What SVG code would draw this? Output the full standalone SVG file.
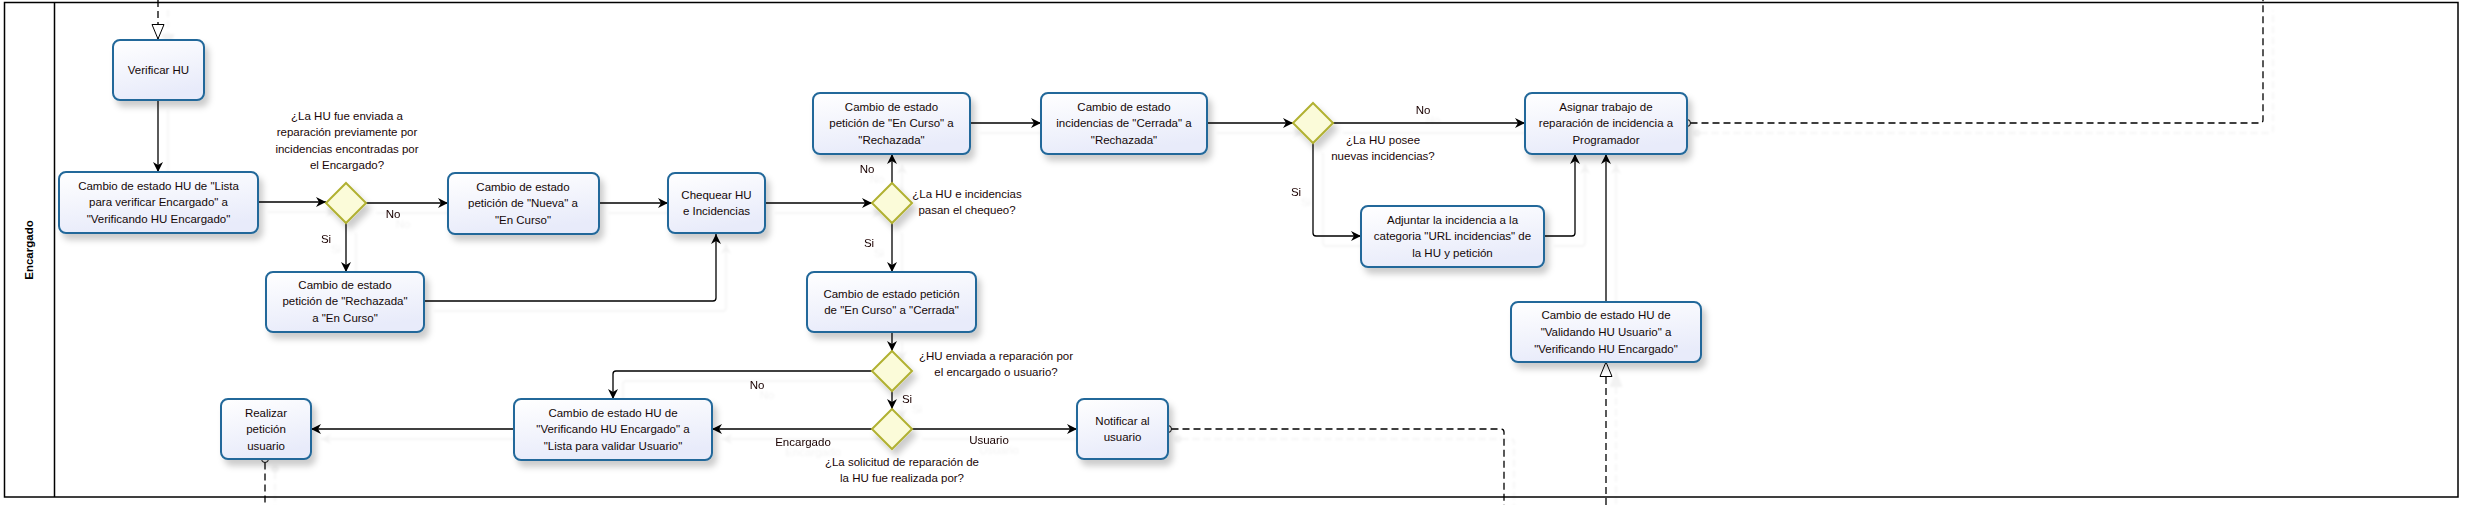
<svg xmlns="http://www.w3.org/2000/svg" width="2475" height="505" viewBox="0 0 2475 505">
<defs>
<linearGradient id="gBox" x1="0" y1="0" x2="0.3" y2="1">
<stop offset="0" stop-color="#ffffff"/>
<stop offset="1" stop-color="#e8ebfa"/>
</linearGradient>
<filter id="sh" x="-20%" y="-20%" width="150%" height="160%">
<feDropShadow dx="4" dy="6" stdDeviation="3" flood-color="#000" flood-opacity="0.2"/>
</filter>
<filter id="csh" x="-5%" y="-5%" width="110%" height="110%">
<feDropShadow dx="10" dy="10" stdDeviation="0.8" flood-color="#000" flood-opacity="0.05"/>
</filter>
<marker id="arr" viewBox="0 0 10 10" refX="10" refY="5" markerWidth="10" markerHeight="10" markerUnits="userSpaceOnUse" orient="auto">
<path d="M0,0 L10,5 L0,10 L3,5 z" fill="#000"/>
</marker>
<marker id="tri" viewBox="0 0 16 14" refX="15.5" refY="7" markerWidth="16" markerHeight="14" markerUnits="userSpaceOnUse" orient="auto">
<path d="M1,1 L15.5,7 L1,13 z" fill="#fff" stroke="#000" stroke-width="1"/>
</marker>
</defs>
<style>
.box{fill:url(#gBox);stroke:#22689a;stroke-width:2;filter:url(#sh)}
.gw{fill:#fbfbd9;stroke:#b1b131;stroke-width:2;filter:url(#sh)}
.t{font-family:"Liberation Sans",Arial,sans-serif;font-size:11.5px;fill:#140808;text-anchor:middle}
.lbl{font-family:"Liberation Sans",Arial,sans-serif;font-size:11.5px;fill:#1a0606;text-anchor:middle}
.c{fill:none;stroke:#000;stroke-width:1.3;marker-end:url(#arr)}
.d{fill:none;stroke:#000;stroke-width:1.3;stroke-dasharray:7,4}
.end{fill:#fff;stroke:#000;stroke-width:1}
</style>
<rect x="0" y="0" width="2475" height="505" fill="#fff"/>
<g id="pool">
<rect x="4.5" y="2.5" width="2453.5" height="494.5" fill="#fff" stroke="#000" stroke-width="1.5"/>
<line x1="54.5" y1="2.5" x2="54.5" y2="497" stroke="#000" stroke-width="1.5"/>
<text x="33" y="250" transform="rotate(-90 33 250)" font-family="Liberation Sans,Arial,sans-serif" font-size="11.5" font-weight="bold" text-anchor="middle" fill="#000">Encargado</text>
</g>
<g id="connectors" filter="url(#csh)">
<path class="d" d="M158,0 V39" marker-end="url(#tri)"/>
<path class="c" d="M158,100 V172"/>
<path class="c" d="M258,202 H326"/>
<path class="c" d="M366,203 H448"/>
<path class="c" d="M346,223 V272"/>
<path class="c" d="M424,301 H713 Q716,301 716,298 V234"/>
<path class="c" d="M599,203 H668"/>
<path class="c" d="M765,203 H872"/>
<path class="c" d="M892,183 V154"/>
<path class="c" d="M892,223 V272"/>
<path class="c" d="M970,123 H1041"/>
<path class="c" d="M1207,123 H1293"/>
<path class="c" d="M1333,123 H1525"/>
<path class="c" d="M1313,143 V233 Q1313,236 1316,236 H1361"/>
<path class="c" d="M1544,236 H1572 Q1575,236 1575,233 V154"/>
<path class="c" d="M1606,302 V154"/>
<path class="c" d="M892,332 V351"/>
<path class="c" d="M872,371 H616 Q613,371 613,374 V399"/>
<path class="c" d="M892,391 V409"/>
<path class="c" d="M872,429 H712"/>
<path class="c" d="M912,429 H1077"/>
<path class="c" d="M514,429 H311"/>
<path class="d" d="M1690.5,123 H2260 Q2263,123 2263,120 V0"/>
<path class="d" d="M1171.5,429 H1501 Q1504,429 1504,432 V505"/>
<path class="d" d="M265,462.5 V505"/>
<path class="d" d="M1606,505 V362" marker-end="url(#tri)"/>
<circle class="end" cx="1687" cy="123" r="3.5"/>
<circle class="end" cx="1168" cy="429" r="3.5"/>
<circle class="end" cx="265" cy="459" r="3.5"/>
<text class="lbl" x="393" y="218">No</text>
<text class="lbl" x="326" y="243">Si</text>
<text class="lbl" x="867" y="173">No</text>
<text class="lbl" x="869" y="247">Si</text>
<text class="lbl" x="1423" y="114">No</text>
<text class="lbl" x="1296" y="196">Si</text>
<text class="lbl" x="757" y="389">No</text>
<text class="lbl" x="907" y="403">Si</text>
<text class="lbl" x="803" y="446">Encargado</text>
<text class="lbl" x="989" y="444">Usuario</text>
</g>
<g id="n-verificar"><rect class="box" x="113" y="40" width="91" height="60" rx="7"/><text class="t" x="158.5" y="74">Verificar HU</text></g>
<g id="n-lista-verificando"><rect class="box" x="59" y="172" width="199" height="61" rx="7"/><text class="t" x="158.5" y="190">Cambio de estado HU de "Lista</text><text class="t" x="158.5" y="206">para verificar Encargado" a</text><text class="t" x="158.5" y="223">"Verificando HU Encargado"</text></g>
<g id="g1"><path class="gw" d="M346,183 L366,203 L346,223 L326,203 z"/><text class="lbl" x="347" y="120">¿La HU fue enviada a</text><text class="lbl" x="347" y="136">reparación previamente por</text><text class="lbl" x="347" y="153">incidencias encontradas por</text><text class="lbl" x="347" y="169">el Encargado?</text></g>
<g id="n-nueva-encurso"><rect class="box" x="448" y="173" width="151" height="61" rx="7"/><text class="t" x="523" y="191">Cambio de estado</text><text class="t" x="523" y="207">petición de "Nueva" a</text><text class="t" x="523" y="224">"En Curso"</text></g>
<g id="n-rechazada-encurso"><rect class="box" x="266" y="272" width="158" height="60" rx="7"/><text class="t" x="345" y="289">Cambio de estado</text><text class="t" x="345" y="305">petición de "Rechazada"</text><text class="t" x="345" y="322">a "En Curso"</text></g>
<g id="n-chequear"><rect class="box" x="668" y="173" width="97" height="60" rx="7"/><text class="t" x="716.5" y="199">Chequear HU</text><text class="t" x="716.5" y="215">e Incidencias</text></g>
<g id="g2"><path class="gw" d="M892,183 L912,203 L892,223 L872,203 z"/><text class="lbl" x="967" y="198">¿La HU e incidencias</text><text class="lbl" x="967" y="214">pasan el chequeo?</text></g>
<g id="n-encurso-rechazada"><rect class="box" x="813" y="93" width="157" height="61" rx="7"/><text class="t" x="891.5" y="111">Cambio de estado</text><text class="t" x="891.5" y="127">petición de "En Curso" a</text><text class="t" x="891.5" y="144">"Rechazada"</text></g>
<g id="n-incidencias-rechazada"><rect class="box" x="1041" y="93" width="166" height="61" rx="7"/><text class="t" x="1124" y="111">Cambio de estado</text><text class="t" x="1124" y="127">incidencias de "Cerrada" a</text><text class="t" x="1124" y="144">"Rechazada"</text></g>
<g id="g3"><path class="gw" d="M1313,103 L1333,123 L1313,143 L1293,123 z"/><text class="lbl" x="1383" y="144">¿La HU posee</text><text class="lbl" x="1383" y="160">nuevas incidencias?</text></g>
<g id="n-asignar"><rect class="box" x="1525" y="93" width="162" height="61" rx="7"/><text class="t" x="1606" y="111">Asignar trabajo de</text><text class="t" x="1606" y="127">reparación de incidencia a</text><text class="t" x="1606" y="144">Programador</text></g>
<g id="n-adjuntar"><rect class="box" x="1361" y="206" width="183" height="61" rx="7"/><text class="t" x="1452.5" y="224">Adjuntar la incidencia a la</text><text class="t" x="1452.5" y="240">categoria "URL incidencias" de</text><text class="t" x="1452.5" y="257">la HU y petición</text></g>
<g id="n-validando"><rect class="box" x="1511" y="302" width="190" height="60" rx="7"/><text class="t" x="1606" y="319">Cambio de estado HU de</text><text class="t" x="1606" y="336">"Validando HU Usuario" a</text><text class="t" x="1606" y="353">"Verificando HU Encargado"</text></g>
<g id="n-cerrada"><rect class="box" x="807" y="272" width="169" height="60" rx="7"/><text class="t" x="891.5" y="298">Cambio de estado petición</text><text class="t" x="891.5" y="314">de "En Curso" a "Cerrada"</text></g>
<g id="g4"><path class="gw" d="M892,351 L912,371 L892,391 L872,371 z"/><text class="lbl" x="996" y="360">¿HU enviada a reparación por</text><text class="lbl" x="996" y="376">el encargado o usuario?</text></g>
<g id="g5"><path class="gw" d="M892,409 L912,429 L892,449 L872,429 z"/><text class="lbl" x="902" y="466">¿La solicitud de reparación de</text><text class="lbl" x="902" y="482">la HU fue realizada por?</text></g>
<g id="n-lista-validar"><rect class="box" x="514" y="399" width="198" height="61" rx="7"/><text class="t" x="613" y="417">Cambio de estado HU de</text><text class="t" x="613" y="433">"Verificando HU Encargado" a</text><text class="t" x="613" y="450">"Lista para validar Usuario"</text></g>
<g id="n-realizar"><rect class="box" x="221" y="399" width="90" height="60" rx="7"/><text class="t" x="266" y="417">Realizar</text><text class="t" x="266" y="433">petición</text><text class="t" x="266" y="450">usuario</text></g>
<g id="n-notificar"><rect class="box" x="1077" y="399" width="91" height="60" rx="7"/><text class="t" x="1122.5" y="425">Notificar al</text><text class="t" x="1122.5" y="441">usuario</text></g>
</svg>
